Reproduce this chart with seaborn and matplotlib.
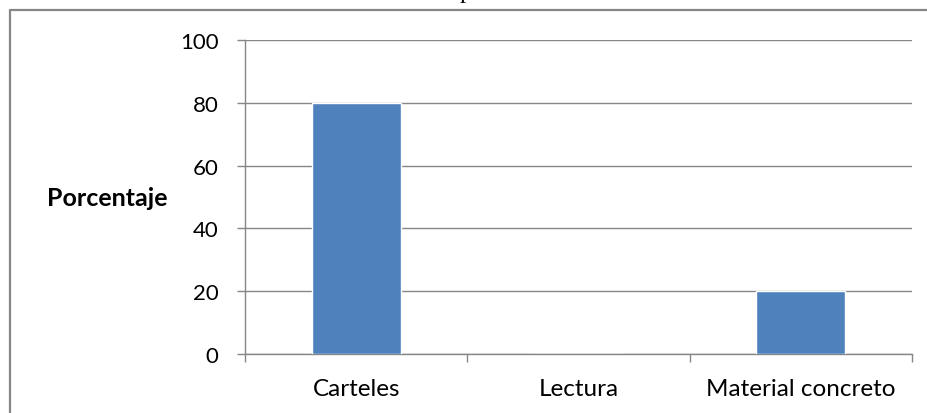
import matplotlib
matplotlib.use("Agg")
import matplotlib.pyplot as plt
from matplotlib.lines import Line2D
from matplotlib.ticker import FixedLocator, NullFormatter
import seaborn as sns
import pandas as pd

categories = ["Carteles", "Lectura", "Material concreto"]
percentages = [80, 0, 20]
y_ticks = [0, 20, 40, 60, 80, 100]

sns.set_theme(style="white")
plt.rcParams["font.family"] = ["Lato", "DejaVu Sans"]

W, H = 927, 414
fig = plt.figure(figsize=(W / 100, H / 100), dpi=100)
ax = fig.add_axes([245 / W, 1 - 355 / H, (912 - 245) / W, (355 - 41) / H])

df = pd.DataFrame({"categoria": categories, "porcentaje": percentages})
sns.barplot(data=df, x="categoria", y="porcentaje", color="#4F81BD",
            saturation=1, width=0.4, ax=ax, zorder=3)

grey = "#868686"
ax.set_ylim(0, 100)
ax.set_xlim(-0.5, len(categories) - 0.5)
ax.set_yticks(y_ticks)
ax.yaxis.grid(True, color=grey, linewidth=1.0, zorder=0)
ax.xaxis.grid(False)
for side in ("top", "right"):
    ax.spines[side].set_visible(False)
for side in ("left", "bottom"):
    ax.spines[side].set_color(grey)
    ax.spines[side].set_linewidth(1.0)

ax.tick_params(axis="y", which="major", length=6, width=1.0, color=grey,
               pad=13, labelsize=16, labelcolor="black", left=True)
ax.tick_params(axis="x", which="major", length=0, pad=17, labelsize=17.5,
               labelcolor="black")
ax.xaxis.set_minor_locator(FixedLocator([i - 0.5 for i in range(len(categories) + 1)]))
ax.xaxis.set_minor_formatter(NullFormatter())
ax.tick_params(axis="x", which="minor", length=6, width=1.0, color=grey,
               bottom=True)

ax.set_xlabel("")
ax.set_ylabel("Porcentaje", rotation=0, fontsize=18, fontweight="bold",
              color="black", ha="center", va="center")
ax.yaxis.set_label_coords((107 - 245) / (912 - 245), 0.5)

# chart frame: top and left edges of the outer box
x0, y0 = 9.5 / W, 1 - 10.5 / H
fig.add_artist(Line2D([x0, 1.01], [y0, y0], color=grey, linewidth=1.6,
                      transform=fig.transFigure))
fig.add_artist(Line2D([x0, x0], [y0, -0.01], color=grey, linewidth=1.6,
                      transform=fig.transFigure))

fig.text(466 / W, 1 + 2 / H, "p", family=["Liberation Serif"], fontsize=18,
         ha="center", va="baseline", color="black")

fig.savefig("out.png", dpi=100)
